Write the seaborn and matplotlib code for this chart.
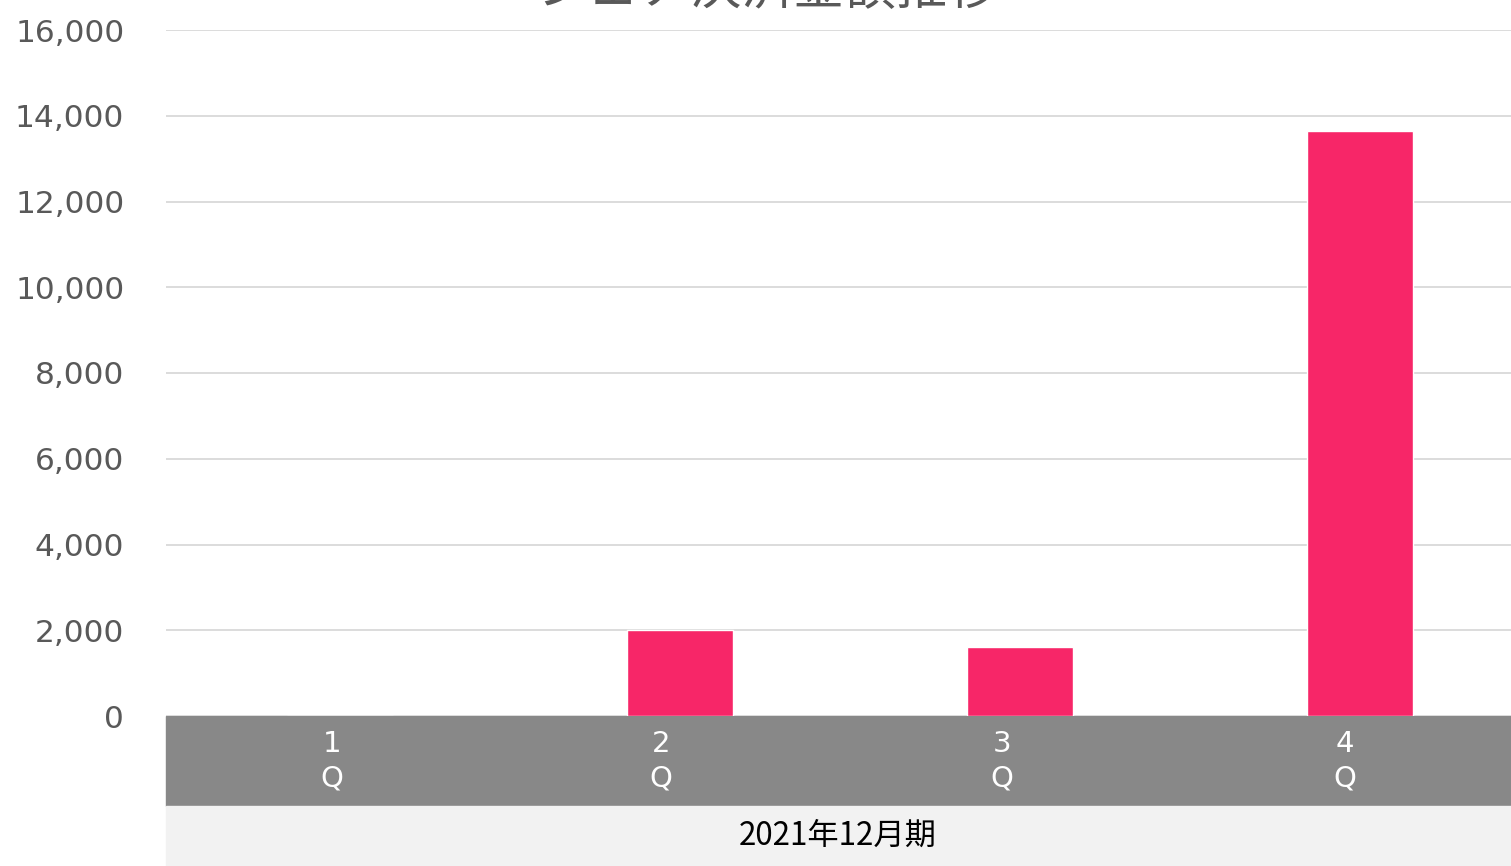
import matplotlib
matplotlib.use("Agg")
import matplotlib.pyplot as plt
import seaborn as sns
import pandas as pd
from matplotlib.patches import Rectangle
from matplotlib.ticker import FuncFormatter

# データ
quarters = ["1Q", "2Q", "3Q", "4Q"]
quarter_labels = ["1\nQ", "2\nQ", "3\nQ", "4\nQ"]
amounts = [0, 2000, 1610, 13640]
period_label = "2021年12月期"
title = "シェア決済金額推移"

sns.set_theme(style="white")
plt.rcParams["font.family"] = ["DejaVu Sans", "Noto Sans CJK JP"]

df = pd.DataFrame({"quarter": quarters, "amount": amounts})

W, H = 1511, 866
fig = plt.figure(figsize=(W / 100, H / 100), dpi=100)
ax = fig.add_axes([166 / W, 150 / H, (W - 166) / W, 686 / H])
ax.set_zorder(2)

sns.barplot(data=df, x="quarter", y="amount", color="#F72668",
            saturation=1, width=0.31, ax=ax)

ax.set_ylim(0, 16000)
ax.set_xlim(-0.512, 3.444)
ax.set_yticks(range(0, 16001, 2000))
ax.yaxis.set_major_formatter(FuncFormatter(lambda v, p: f"{int(v):,}"))
ax.tick_params(axis="y", length=0, pad=30, labelsize=22.5, labelcolor="#595959")
ax.set_xticks([])
ax.set_xlabel("")
ax.set_ylabel("")
ax.grid(axis="y", color="#d9d9d9", linewidth=1.3)
ax.set_axisbelow(True)
for s in ax.spines.values():
    s.set_visible(False)

# 四半期ラベル帯
fig.patches.append(Rectangle((166 / W, 60 / H), (W - 166) / W, 90 / H,
                             transform=fig.transFigure, color="#888888", zorder=0))
fig.patches.append(Rectangle((166 / W, 0), (W - 166) / W, 60 / H,
                             transform=fig.transFigure, color="#f2f2f2", zorder=0))

offsets = [-0.024, -0.056, -0.053, -0.044]
for i, lab in enumerate(quarter_labels):
    ax.text(i + offsets[i], -0.066, lab, transform=ax.get_xaxis_transform(),
            ha="center", va="center", color="white", fontsize=21,
            linespacing=1.3, clip_on=False)

fig.text(838 / W, 30 / H, period_label, ha="center", va="center",
         fontsize=22.5, color="black", family=["Noto Sans CJK JP", "DejaVu Sans"])

fig.text(768 / W, 1.0 - 16 / H, title, ha="center", va="bottom",
         fontsize=37, color="#595959", family=["Noto Sans CJK JP", "DejaVu Sans"])

fig.savefig("out.png", dpi=100)
